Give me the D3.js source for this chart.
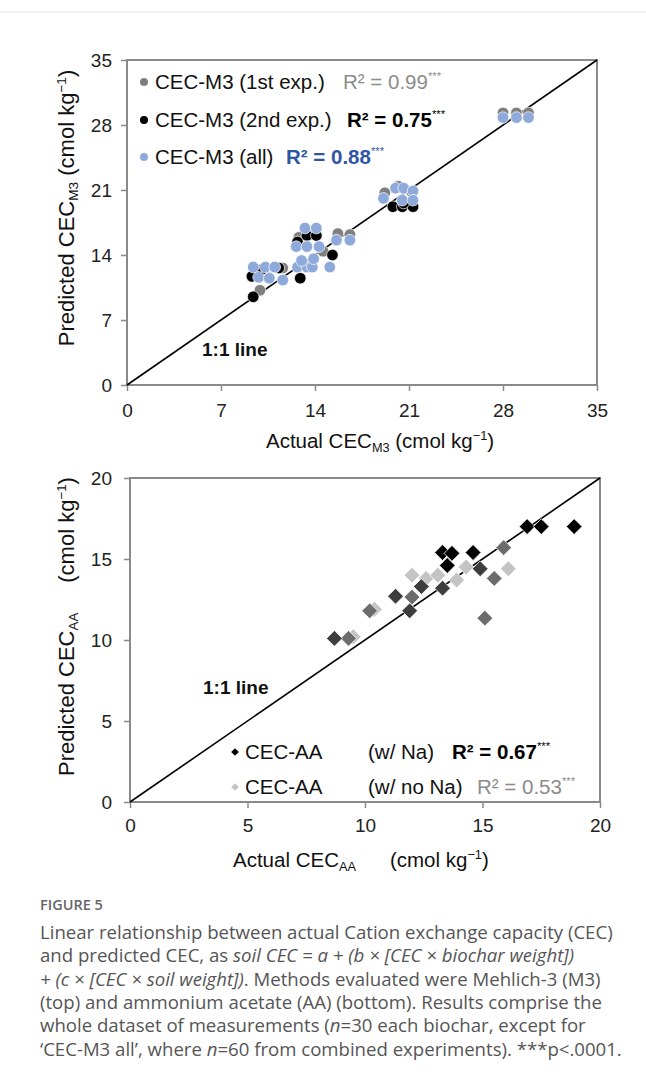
<!DOCTYPE html>
<html lang="en">
<head>
<meta charset="utf-8">
<title>Figure 5 - actual vs predicted CEC</title>
<script src="https://cdn.jsdelivr.net/npm/d3@7"></script>
<style>
body { margin: 0; background: #fff; }
.tick text { font-family: "Liberation Sans", Arial, sans-serif; font-size: 19px; fill: #222; }
.tick line { stroke: #8a8a8a; stroke-width: 1.5; }
.domain { display: none; }
.frame { fill: none; stroke: #8a8a8a; stroke-width: 2; }
.label, .legend { font-family: "Liberation Sans", Arial, sans-serif; font-size: 20.5px; fill: #111; }
.ylabel { font-family: "Liberation Sans", Arial, sans-serif; font-size: 22px; fill: #111; }
.oneone { font-family: "Liberation Sans", Arial, sans-serif; font-size: 19px; font-weight: bold; fill: #111; }
.caption { font-family: "Open Sans", sans-serif; font-size: 18.6px; fill: #555; }
.fig { font-family: "Open Sans", sans-serif; font-size: 14.5px; font-weight: 600; fill: #666; }
</style>
</head>
<body>
<script>
// ---- data: [actual, predicted] ----
var m3Ticks = [0, 7, 14, 21, 28, 35];
var aaTicks = [0, 5, 10, 15, 20];

var m3First = [[9.9,10.2],[10.5,11.6],[11.6,12.6],[12.8,15.9],[13.6,16.2],[14.1,16.8],
  [15.7,16.3],[16.6,16.2],[19.2,20.7],[20.2,21.4],[21.2,20.8],[13.0,13.2],[14.6,14.4],
  [28.0,29.3],[29.0,29.3],[29.9,29.3]];
var m3Second = [[9.4,9.5],[9.3,11.7],[10.0,12.4],[11.3,12.6],[12.9,11.5],[12.7,15.4],
  [13.4,16.1],[14.1,16.1],[15.3,14.0],[19.8,19.2],[20.5,19.2],[21.3,19.2],[20.6,19.6]];
var m3All = [[9.4,12.7],[10.3,12.7],[11.0,12.7],[9.8,11.6],[10.6,11.5],[11.6,11.3],
  [12.7,12.7],[13.4,12.7],[13.8,12.7],[15.1,12.7],[12.6,14.9],[13.4,14.9],[14.3,14.9],
  [13.0,13.4],[13.9,13.6],[13.25,16.9],[14.1,16.9],[15.6,15.6],[16.6,15.6],[19.1,20.1],
  [20.0,21.2],[20.6,21.2],[21.3,20.9],[20.5,19.9],[21.3,19.9],[28.0,28.8],[29.0,28.8],[29.9,28.8]];

var aaWithNa = [[16.9,17.0],[17.5,17.0],[18.9,17.0],[13.3,15.4],[13.7,15.35],[14.6,15.4],[13.5,14.6]];
var aaWithNaGrey = [[8.7,10.1],[11.3,12.7],[11.9,11.8],[12.4,13.3],[14.9,14.4],[13.3,13.2]];
var aaNoNa = [[9.3,10.1],[10.2,11.8],[12.0,12.65],[15.1,11.35],[15.5,13.8],[15.9,15.7]];
var aaNoNaLight = [[12.0,14.0],[12.6,13.8],[13.1,14.0],[16.1,14.4],[13.9,13.7],[14.3,14.5],[10.4,11.9],[9.5,10.2]];

var captionLines = [
  [["Linear relationship between actual Cation exchange capacity (CEC)", 0]],
  [["and predicted CEC, as ", 0], ["soil CEC = a + (b \u00d7 [CEC \u00d7 biochar weight])", 1]],
  [["+ (c \u00d7 [CEC \u00d7 soil weight])", 1], [". Methods evaluated were Mehlich-3 (M3)", 0]],
  [["(top) and ammonium acetate (AA) (bottom). Results comprise the", 0]],
  [["whole dataset of measurements (", 0], ["n", 1], ["=30 each biochar, except for", 0]],
  [["\u2018CEC-M3 all\u2019, where ", 0], ["n", 1], ["=60 from combined experiments). ***p<.0001.", 0]]
];

var W = 646, H = 1076;
var svg = d3.select("body").append("svg").attr("width", W).attr("height", H);

svg.append("line").attr("x1", 0).attr("x2", W).attr("y1", 12).attr("y2", 12)
  .attr("stroke", "#e2e2e2").attr("stroke-width", 1);

// scales
var topX = d3.scaleLinear().domain([0, 35]).range([127, 597]);
var topY = d3.scaleLinear().domain([0, 35]).range([385, 60]);
var botX = d3.scaleLinear().domain([0, 20]).range([130, 600]);
var botY = d3.scaleLinear().domain([0, 20]).range([802, 478]);

function panel(x, y, ticks, padX, padY) {
  svg.append("g").attr("transform", "translate(0," + y.range()[0] + ")")
    .call(d3.axisBottom(x).tickValues(ticks).tickSize(6).tickPadding(padX));
  svg.append("g").attr("transform", "translate(" + x.range()[0] + ",0)")
    .call(d3.axisLeft(y).tickValues(ticks).tickSize(6).tickPadding(padY));
  svg.append("rect").attr("class", "frame")
    .attr("x", x.range()[0]).attr("y", y.range()[1])
    .attr("width", x.range()[1] - x.range()[0]).attr("height", y.range()[0] - y.range()[1]);
  var m = x.domain()[1];
  svg.append("line")
    .attr("x1", x(0)).attr("y1", y(0)).attr("x2", x(m)).attr("y2", y(m))
    .attr("stroke", "#000").attr("stroke-width", 1.6);
}

// text with sub/superscript parts: [text, mode, dx]
function richText(g, x, y, parts, size, attrs) {
  var t = g.append("text").attr("x", x).attr("y", y);
  var shift = 0;
  parts.forEach(function(p) {
    var s = t.append("tspan").text(p[0]);
    var want = 0;
    if (p[1] === "sub") { s.attr("font-size", size * 0.62); want = 4; }
    else if (p[1] === "sup") { s.attr("font-size", size * 0.62); want = -8; }
    else if (p[1] === "stars") { s.attr("font-size", size * 0.55).attr("font-weight", "normal"); want = -9; }
    if (want - shift !== 0) s.attr("dy", want - shift);
    shift = want;
    if (p[2]) s.attr("dx", p[2]);
  });
  if (attrs) Object.keys(attrs).forEach(function(k) { t.attr(k, attrs[k]); });
  return t;
}

// ---------------- top panel: Mehlich-3 ----------------
panel(topX, topY, m3Ticks, 13, 9);

function dots(data, color) {
  svg.append("g").selectAll("circle").data(data).enter().append("circle")
    .attr("cx", function(d) { return topX(d[0]); })
    .attr("cy", function(d) { return topY(d[1]); })
    .attr("r", 5.8)
    .attr("fill", color).attr("stroke", "#fff").attr("stroke-width", 0.7);
}
dots(m3First, "#7f7f7f");
dots(m3Second, "#000");
dots(m3All, "#8eaadb");

svg.append("text").attr("class", "oneone").attr("x", 202).attr("y", 356).text("1:1 line");

var lgTop = [
  {y: 89, c: "#7f7f7f", name: "CEC-M3 (1st exp.)", rx: 343, r: "0.99", rc: "#8c8c8c", bold: false},
  {y: 127, c: "#000", name: "CEC-M3 (2nd exp.)", rx: 347, r: "0.75", rc: "#000", bold: true},
  {y: 164, c: "#8eaadb", name: "CEC-M3 (all)", rx: 286, r: "0.88", rc: "#2f55a4", bold: true}
];
lgTop.forEach(function(l) {
  svg.append("circle").attr("cx", 144).attr("cy", l.y - 7).attr("r", 4).attr("fill", l.c);
  svg.append("text").attr("class", "legend").attr("x", 155).attr("y", l.y).text(l.name);
  richText(svg, l.rx, l.y, [["R\u00b2 = " + l.r, 0], ["***", "stars"]], 20.5,
    {"class": "legend", "font-weight": l.bold ? "bold" : "normal"}).style("fill", l.rc);
});

// axis titles
richText(svg, 380, 448, [["Actual CEC", 0], ["M3", "sub"], [" (cmol kg", 0], ["\u22121", "sup"], [")", 0]], 20.5,
  {"class": "label", "text-anchor": "middle"});
richText(svg, 0, 0, [["Predicted CEC", 0], ["M3", "sub"], [" (cmol kg", 0], ["\u22121", "sup"], [")", 0]], 22,
  {"class": "ylabel", "text-anchor": "middle", "transform": "translate(74,208) rotate(-90)"});

// ---------------- bottom panel: ammonium acetate ----------------
panel(botX, botY, aaTicks, 11, 12);

var diamond = d3.symbol().type(d3.symbolSquare).size(125);
function diamonds(data, color) {
  svg.append("g").selectAll("path").data(data).enter().append("path")
    .attr("d", diamond)
    .attr("transform", function(d) { return "translate(" + botX(d[0]) + "," + botY(d[1]) + ") rotate(45)"; })
    .attr("fill", color).attr("stroke", "#fff").attr("stroke-width", 0.7);
}
diamonds(aaNoNaLight, "#c4c4c4");
diamonds(aaNoNa, "#6c6c6c");
diamonds(aaWithNaGrey, "#3d3d3d");
diamonds(aaWithNa, "#000");

svg.append("text").attr("class", "oneone").attr("x", 203).attr("y", 694).text("1:1 line");

var small = d3.symbol().type(d3.symbolSquare).size(30);
var lgBot = [
  {y: 759, c: "#000", tag: "(w/ Na)", rx: 452, r: "0.67", rc: "#000", bold: true},
  {y: 794, c: "#c4c4c4", tag: "(w/ no Na)", rx: 477, r: "0.53", rc: "#8c8c8c", bold: false}
];
lgBot.forEach(function(l) {
  svg.append("path").attr("d", small)
    .attr("transform", "translate(235," + (l.y - 7) + ") rotate(45)").attr("fill", l.c);
  svg.append("text").attr("class", "legend").attr("x", 245).attr("y", l.y).text("CEC-AA");
  svg.append("text").attr("class", "legend").attr("x", 368).attr("y", l.y).text(l.tag);
  richText(svg, l.rx, l.y, [["R\u00b2 = " + l.r, 0], ["***", "stars"]], 20.5,
    {"class": "legend", "font-weight": l.bold ? "bold" : "normal"}).style("fill", l.rc);
});

richText(svg, 233, 867, [["Actual CEC", 0], ["AA", "sub"], ["(cmol kg", 0, 34], ["\u22121", "sup"], [")", 0]], 20.5,
  {"class": "label"});
richText(svg, 0, 0, [["Predicted CEC", 0], ["AA", "sub"], ["(cmol kg", 0, 30], ["\u22121", "sup"], [")", 0]], 21.5,
  {"class": "ylabel", "font-size": 21.5, "transform": "translate(74,776) rotate(-90)"});

// ---------------- caption ----------------
svg.append("text").attr("class", "fig").attr("x", 40).attr("y", 910).text("FIGURE 5");
captionLines.forEach(function(line, i) {
  var t = svg.append("text").attr("class", "caption").attr("x", 40).attr("y", 939 + i * 23.3);
  line.forEach(function(p) {
    t.append("tspan").text(p[0]).attr("font-style", p[1] ? "italic" : "normal");
  });
});
</script>
</body>
</html>
